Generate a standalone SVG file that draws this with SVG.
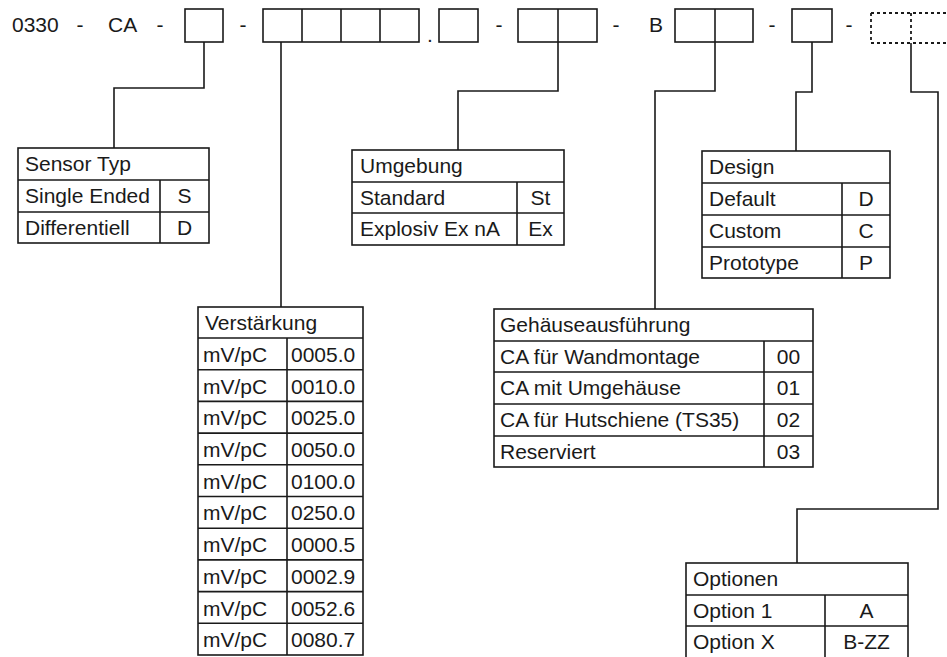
<svg xmlns="http://www.w3.org/2000/svg" width="947" height="657" viewBox="0 0 947 657">
<style>
text{font-family:"Liberation Sans",Arial,sans-serif;font-size:21px;fill:#1a1a1a}
.c{text-anchor:middle}
.b{fill:none;stroke:#1a1a1a;stroke-width:1.6}
.d{fill:none;stroke:#1a1a1a;stroke-width:1.8;stroke-dasharray:3 3}
.w{fill:none;stroke:#1a1a1a;stroke-width:1.6}
</style>
<rect width="947" height="657" fill="#fff"/>
<g id="code">
<text x="12" y="32">0330</text>
<text x="80" y="32" class="c">-</text>
<text x="108" y="32">CA</text>
<text x="160" y="32" class="c">-</text>
<rect class="b" x="185" y="9" width="38" height="33"/>
<text x="243" y="32" class="c">-</text>
<rect class="b" x="263" y="9" width="156" height="33"/>
<path class="b" d="M302,9V42M341,9V42M380,9V42"/>
<text x="430" y="42" class="c">.</text>
<rect class="b" x="439" y="9" width="39" height="33"/>
<text x="499" y="32" class="c">-</text>
<rect class="b" x="518" y="9" width="79" height="33"/>
<path class="b" d="M558,9V42"/>
<text x="616" y="32" class="c">-</text>
<text x="649" y="32">B</text>
<rect class="b" x="675" y="9" width="78" height="33"/>
<path class="b" d="M715,9V42"/>
<text x="772" y="32" class="c">-</text>
<rect class="b" x="792" y="9" width="40" height="33"/>
<text x="849" y="32" class="c">-</text>
<path class="d" d="M871,13V43M871,13H950M871,43H950M911,13V43"/>
</g>
<g id="connectors" class="w">
<path class="w" d="M204,42V88H114V148"/>
<path class="w" d="M281,42V307"/>
<path class="w" d="M558,42V91H458V150"/>
<path class="w" d="M715,42V91H655V309"/>
<path class="w" d="M812,42V92H796V151"/>
<path class="w" d="M911,43V92H938V509H797V563"/>
</g>
<g id="sensor-typ">
<rect class="b" x="18" y="148" width="191" height="95"/>
<path class="b" d="M18,180H209M18,212H209M160,180V243"/>
<text x="25" y="171">Sensor Typ</text>
<text x="25" y="203">Single Ended</text>
<text x="184.5" y="203" class="c">S</text>
<text x="25" y="235">Differentiell</text>
<text x="184.5" y="235" class="c">D</text>
</g>
<g id="verstaerkung">
<rect class="b" x="198" y="307" width="165" height="348"/>
<path class="b" d="M198,338H363M198,369.7H363M198,401.4H363M198,433.1H363M198,464.8H363M198,496.5H363M198,528.2H363M198,559.9H363M198,591.6H363M198,623.3H363M287,338V655"/>
<text x="205" y="330">Verstärkung</text>
<text x="203" y="362">mV/pC</text><text x="291" y="362">0005.0</text>
<text x="203" y="394">mV/pC</text><text x="291" y="394">0010.0</text>
<text x="203" y="425">mV/pC</text><text x="291" y="425">0025.0</text>
<text x="203" y="457">mV/pC</text><text x="291" y="457">0050.0</text>
<text x="203" y="489">mV/pC</text><text x="291" y="489">0100.0</text>
<text x="203" y="520">mV/pC</text><text x="291" y="520">0250.0</text>
<text x="203" y="552">mV/pC</text><text x="291" y="552">0000.5</text>
<text x="203" y="584">mV/pC</text><text x="291" y="584">0002.9</text>
<text x="203" y="616">mV/pC</text><text x="291" y="616">0052.6</text>
<text x="203" y="647">mV/pC</text><text x="291" y="647">0080.7</text>
</g>
<g id="umgebung">
<rect class="b" x="352" y="150" width="212" height="95"/>
<path class="b" d="M352,182H564M352,213H564M517,182V245"/>
<text x="360" y="173">Umgebung</text>
<text x="360" y="205">Standard</text>
<text x="540.5" y="205" class="c">St</text>
<text x="360" y="236">Explosiv Ex nA</text>
<text x="540.5" y="236" class="c">Ex</text>
</g>
<g id="design">
<rect class="b" x="702" y="151" width="188" height="127"/>
<path class="b" d="M702,183H890M702,215H890M702,247H890M842,183V278"/>
<text x="709" y="174">Design</text>
<text x="709" y="206">Default</text><text x="866" y="206" class="c">D</text>
<text x="709" y="238">Custom</text><text x="866" y="238" class="c">C</text>
<text x="709" y="270">Prototype</text><text x="866" y="270" class="c">P</text>
</g>
<g id="gehaeuse">
<rect class="b" x="494" y="309" width="319" height="158"/>
<path class="b" d="M494,341H813M494,372H813M494,404H813M494,436H813M764,341V467"/>
<text x="500" y="332">Gehäuseausführung</text>
<text x="500" y="364">CA für Wandmontage</text><text x="788.5" y="364" class="c">00</text>
<text x="500" y="395">CA mit Umgehäuse</text><text x="788.5" y="395" class="c">01</text>
<text x="500" y="427">CA für Hutschiene (TS35)</text><text x="788.5" y="427" class="c">02</text>
<text x="500" y="459">Reserviert</text><text x="788.5" y="459" class="c">03</text>
</g>
<g id="optionen">
<rect class="b" x="686" y="563" width="222" height="96"/>
<path class="b" d="M686,595H908M686,626H908M825,595V659"/>
<text x="693" y="586">Optionen</text>
<text x="693" y="618">Option 1</text><text x="866.5" y="618" class="c">A</text>
<text x="693" y="649">Option X</text><text x="866.5" y="649" class="c">B-ZZ</text>
</g>
</svg>
